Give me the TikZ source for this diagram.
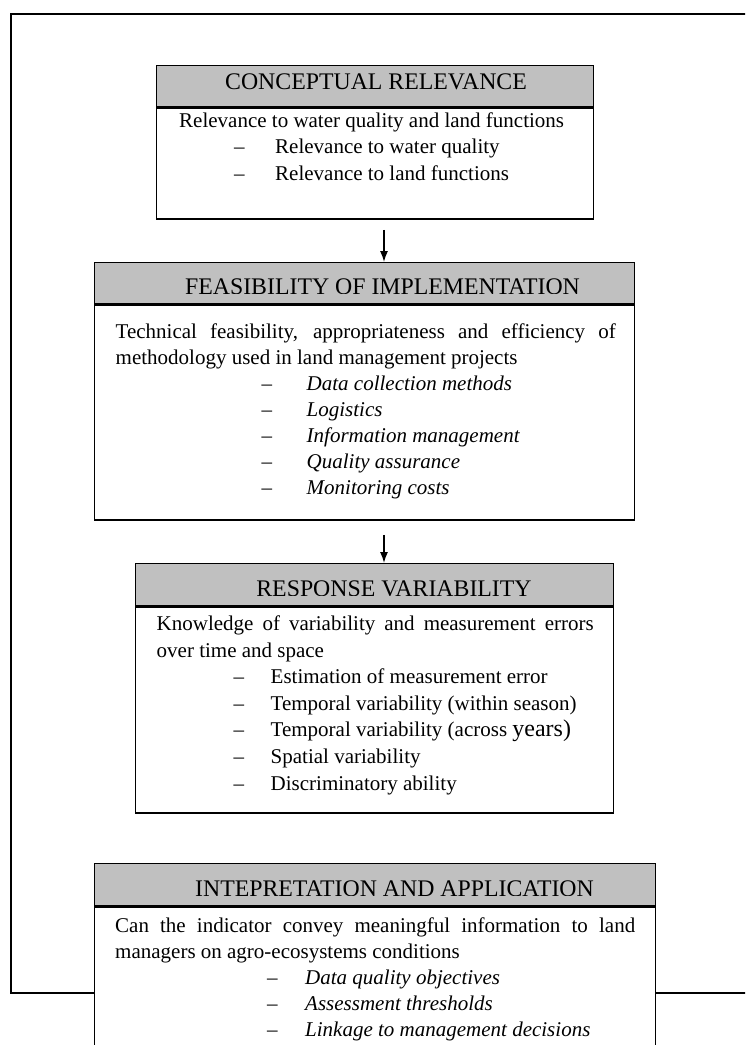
\documentclass[tikz,border=0pt]{standalone}
\usepackage{fontspec}
\setmainfont{Liberation Serif}
\usetikzlibrary{arrows.meta}
\definecolor{headgray}{RGB}{192,192,192}
\tikzset{
  headbox/.style={draw, fill=headgray, anchor=north west, inner sep=0pt},
  bodybox/.style={draw, fill=white, anchor=north west, inner sep=0pt},
  headtext/.style={anchor=base, inner sep=0pt, font={\fontsize{23.8}{26}\selectfont}},
  bodytext/.style={anchor=north west, inner sep=0pt, align=justify, font={\fontsize{21}{26}\selectfont}},
  arr/.style={-{Latex[length=11pt,width=8pt]}},
}
\newcommand{\dashitem}[3]{\par\noindent\hspace*{#1}\makebox[#2][l]{\textendash}#3}
\begin{document}
\begin{tikzpicture}[x=1pt, y=-1pt, line width=1.4pt]
\clip (0,0) rectangle (745,1045);
\fill[white] (0,0) rectangle (745,1045);
\draw (11,14) rectangle (780,993);

\node (head1) at (156,65) [headbox, minimum width=437pt, minimum height=41pt] {};
\node (body1) at (head1.south west) [bodybox, minimum width=437pt, minimum height=111pt] {};
\node (ttl1) at (376,89.5) [headtext] {CONCEPTUAL RELEVANCE};
\node (txt1) at (178.5,112) [bodytext, text width=400pt, font={\fontsize{21}{26.5}\selectfont}] {Relevance to water quality and land functions
  \dashitem{55pt}{41pt}{Relevance to water quality}
  \dashitem{55pt}{41pt}{Relevance to land functions}};

\node (head2) at (94,262) [headbox, minimum width=540pt, minimum height=41pt] {};
\node (body2) at (head2.south west) [bodybox, minimum width=540pt, minimum height=215pt] {};
\begin{scope}
\clip (94,262) rectangle (634,293.2);
\node (ttl2) at (382.5,294.5) [headtext] {FEASIBILITY OF IMPLEMENTATION};
\end{scope}
\node (txt2) at (115,323.5) [bodytext, text width=500pt] {Technical feasibility, appropriateness and efficiency of\linebreak
  methodology used in land management projects
  \dashitem{146pt}{45pt}{\textit{Data collection methods}}
  \dashitem{146pt}{45pt}{\textit{Logistics}}
  \dashitem{146pt}{45pt}{\textit{Information management}}
  \dashitem{146pt}{45pt}{\textit{Quality assurance}}
  \dashitem{146pt}{45pt}{\textit{Monitoring costs}}};

\node (head3) at (135,563) [headbox, minimum width=478pt, minimum height=42pt] {};
\node (body3) at (head3.south west) [bodybox, minimum width=478pt, minimum height=206pt] {};
\begin{scope}
\clip (135,563) rectangle (613,595);
\node (ttl3) at (394,596.3) [headtext] {RESPONSE VARIABILITY};
\end{scope}
\node (txt3) at (156,615) [bodytext, text width=437pt, font={\fontsize{21}{26.6}\selectfont}] {Knowledge of variability and measurement errors\linebreak
  over time and space
  \dashitem{77pt}{37pt}{Estimation of measurement error}
  \dashitem{77pt}{37pt}{Temporal variability (within season)}
  \dashitem{77pt}{37pt}{Temporal variability (across {\fontsize{24}{26.6}\selectfont years)}}
  \dashitem{77pt}{37pt}{Spatial variability}
  \dashitem{77pt}{37pt}{Discriminatory ability}};

\node (head4) at (94,863) [headbox, minimum width=561pt, minimum height=42pt] {};
\node (body4) at (head4.south west) [bodybox, minimum width=561pt, minimum height=170pt] {};
\begin{scope}
\clip (94,863) rectangle (655,895);
\node (ttl4) at (394.5,896.3) [headtext] {INTEPRETATION AND APPLICATION};
\end{scope}
\node (txt4) at (114.5,917) [bodytext, text width=520pt] {Can the indicator convey meaningful information to land\linebreak
  managers on agro-ecosystems conditions
  \dashitem{152pt}{38pt}{\textit{Data quality objectives}}
  \dashitem{152pt}{38pt}{\textit{Assessment thresholds}}
  \dashitem{152pt}{38pt}{\textit{Linkage to management decisions}}};

\coordinate (ax) at (384,0);
\draw[arr, shorten <=10pt] (body1.south -| ax) -- (head2.north -| ax);
\draw[arr, shorten <=14pt] (body2.south -| ax) -- (head3.north -| ax);
\end{tikzpicture}
\end{document}
